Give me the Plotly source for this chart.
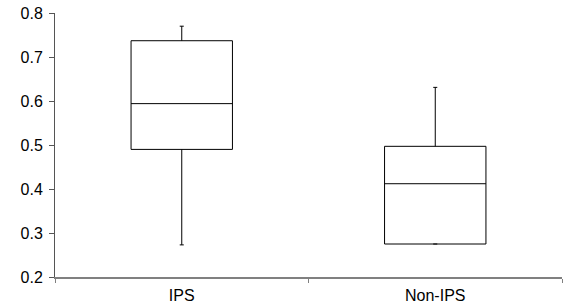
import plotly.graph_objects as go

categories = ["IPS", "Non-IPS"]
lower = [0.273, 0.275]
q1 = [0.490, 0.275]
median = [0.594, 0.412]
q3 = [0.737, 0.497]
upper = [0.770, 0.631]
y_ticks = [0.2, 0.3, 0.4, 0.5, 0.6, 0.7, 0.8]

fig = go.Figure()
fig.add_trace(go.Box(
    x=categories, q1=q1, median=median, q3=q3,
    lowerfence=lower, upperfence=upper,
    fillcolor="white", line=dict(color="black", width=1),
    width=0.4, whiskerwidth=0.04, boxpoints=False, showlegend=False,
    hoverinfo="skip",
))

fig.update_layout(
    width=566, height=308,
    margin=dict(l=55, r=4, t=13, b=31),
    paper_bgcolor="white", plot_bgcolor="white",
    font=dict(family="Liberation Sans, Arial, sans-serif", size=16, color="black"),
    xaxis=dict(
        type="category", tickson="boundaries", ticks="outside", ticklen=4,
        tickcolor="#808080", showline=True, linecolor="#808080", linewidth=2,
        showgrid=False, zeroline=False, range=[-0.5, 1.5], automargin=False,
        tickfont=dict(size=16), ticklabelstandoff=3,
    ),
    yaxis=dict(
        range=[0.2, 0.8], tickvals=y_ticks, tickformat=".1f", ticks="outside",
        ticklen=5, tickcolor="#555555", showline=True, linecolor="#555555",
        linewidth=1, showgrid=False, zeroline=False, automargin=False,
        tickfont=dict(size=16), ticklabelstandoff=3,
    ),
)

fig.write_html(
    "out.html",
    config={"displayModeBar": False},
    post_script="document.body.style.margin='0';document.body.style.padding='0';",
)
